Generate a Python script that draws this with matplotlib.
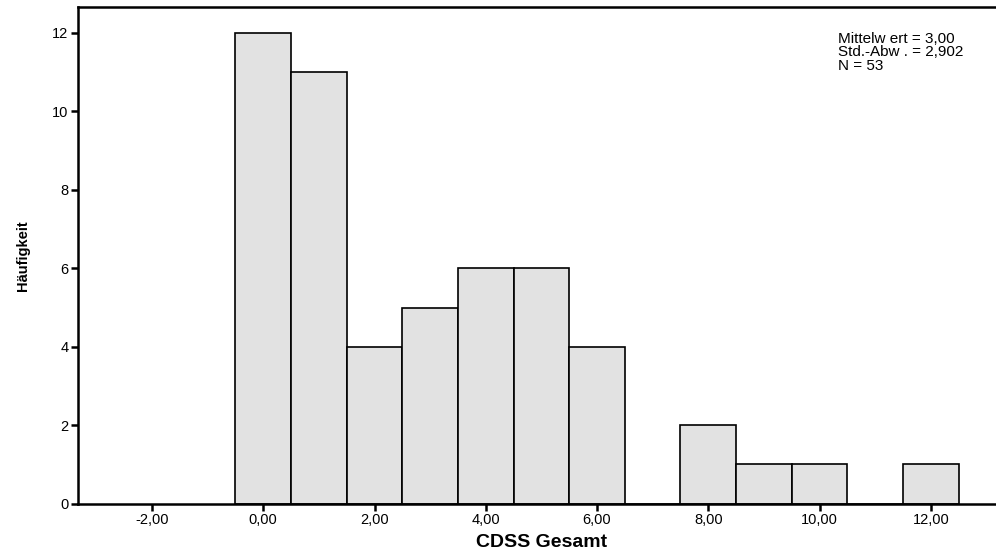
import matplotlib
matplotlib.use("Agg")
import matplotlib.pyplot as plt

plt.rcParams['font.family'] = ['Liberation Sans', 'DejaVu Sans']

werte = [0, 1, 2, 3, 4, 5, 6, 7, 8, 9, 10, 11, 12]
haeufigkeit = [12, 11, 4, 5, 6, 6, 4, 0, 2, 1, 1, 0, 1]
x_ticks = [-2, 0, 2, 4, 6, 8, 10, 12]
x_labels = ['-2,00', '0,00', '2,00', '4,00', '6,00', '8,00', '10,00', '12,00']
y_ticks = [0, 2, 4, 6, 8, 10, 12]
statistik = "Mittelw ert = 3,00\nStd.-Abw . = 2,902\nN = 53"

fig = plt.figure(figsize=(9.96, 5.57), dpi=100)
ax = fig.add_axes([0.0783, 0.0957, 0.93, 0.8917])

ax.bar(werte, haeufigkeit, width=1.0, color='#e2e2e2', edgecolor='black', linewidth=1.2)

ax.set_xlim(-3.33, 13.32)
ax.set_ylim(0, 12.66)
ax.set_xticks(x_ticks)
ax.set_xticklabels(x_labels)
ax.set_yticks(y_ticks)
ax.tick_params(axis='both', direction='out', length=5, width=1.8, labelsize=10.5, pad=2)

for s in ax.spines.values():
    s.set_linewidth(1.8)

ax.set_xlabel('CDSS Gesamt', fontsize=14, fontweight='bold', labelpad=5)
ax.set_ylabel('Häufigkeit', fontsize=10.5, fontweight='bold', labelpad=16)

ax.text(0.821, 0.95, statistik, transform=ax.transAxes, fontsize=11,
        va='top', ha='left', linespacing=0.95)

fig.savefig('out.png', dpi=100)
